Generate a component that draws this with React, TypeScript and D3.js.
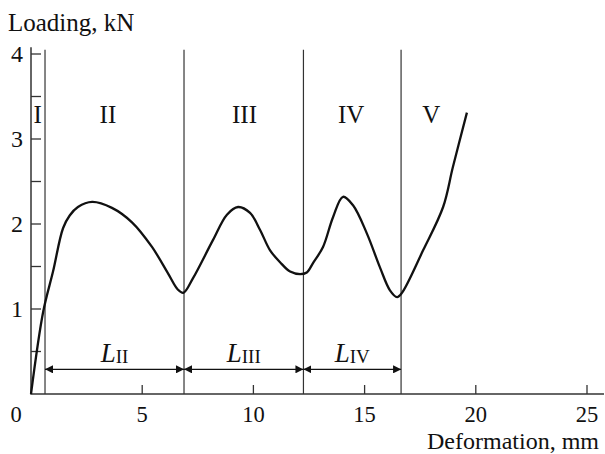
import * as d3 from 'd3'

// curve (deformation in mm, load in kN)
const deformation = [
  0, 0.55, 0.99, 1.44, 1.74, 2.11, 2.75, 3.64, 4.54, 5.44, 6.16, 6.6, 6.85,
  7.28, 8.18, 8.81, 9.31, 9.85, 10.3, 10.75, 11.2, 11.65, 12.1, 12.4,
  12.68, 13.13, 13.58, 14.03, 14.48, 15.1, 15.69, 16.14, 16.46, 16.68,
  17.63, 18.53, 18.97, 19.6,
]
const loading = [
  0, 0.97, 1.44, 1.95, 2.1, 2.2, 2.26, 2.19, 2.02, 1.73, 1.42, 1.23, 1.19,
  1.36, 1.81, 2.11, 2.2, 2.13, 1.93, 1.69, 1.55, 1.44, 1.41, 1.43,
  1.54, 1.73, 2.08, 2.32, 2.22, 1.89, 1.49, 1.22, 1.14, 1.19,
  1.69, 2.2, 2.67, 3.31,
]

// stage boundaries and labels
const boundaries = [0.63, 6.88, 12.25, 16.64]
const stageNames = ['I', 'II', 'III', 'IV', 'V']
const stageLabelX = [0.3, 3.46, 9.6, 14.4, 18.0]
const spans = [
  { from: 0.63, to: 6.88, sub: 'II' },
  { from: 6.88, to: 12.25, sub: 'III' },
  { from: 12.25, to: 16.64, sub: 'IV' },
]

const xTicks = [5, 10, 15, 20, 25]
const yMajor = [1, 2, 3, 4]
const yMinor = [0.5, 1, 1.5, 2, 2.5, 3, 3.5, 4]

const W = 605
const H = 454
const font = 'Liberation Serif, Times New Roman, serif'

export default function App() {
  const x = d3.scaleLinear().domain([0, 25]).range([31, 587])
  const y = d3.scaleLinear().domain([0, 4]).range([394, 54])

  const pts: [number, number][] = deformation.map((d, i) => [d, loading[i]])
  const line = d3
    .line<[number, number]>()
    .x(d => x(d[0]))
    .y(d => y(d[1]))
    .curve(d3.curveCatmullRom.alpha(0.5))

  const yTop = y(4.08)
  const arrowY = y(0.29)

  return (
    <svg
      width={W}
      height={H}
      style={{ position: 'absolute', left: 0, top: 0, background: '#fff' }}
      fontFamily={font}
    >
      <defs>
        <marker
          id="arr"
          viewBox="0 0 10 10"
          refX="10"
          refY="5"
          markerWidth="8"
          markerHeight="8"
          markerUnits="userSpaceOnUse"
          orient="auto-start-reverse"
        >
          <path d="M0,0 L10,5 L0,10 Z" fill="#111" />
        </marker>
      </defs>

      {/* axes */}
      <line x1={x(0)} x2={x(0)} y1={yTop} y2={y(0)} stroke="#333" strokeWidth={1.5} />
      <line x1={x(0) - 0.75} x2={604} y1={y(0)} y2={y(0)} stroke="#333" strokeWidth={1.5} />

      {yMinor.map(v => (
        <line key={'yt' + v} x1={x(0)} x2={x(0) + 10} y1={y(v)} y2={y(v)} stroke="#333" strokeWidth={1.3} />
      ))}
      {yMajor.map(v => (
        <text key={'yl' + v} x={23} y={y(v)} dy="0.35em" textAnchor="end" fontSize={24} fill="#111">
          {v}
        </text>
      ))}

      {xTicks.map(v => (
        <line key={'xt' + v} x1={x(v)} x2={x(v)} y1={y(0)} y2={y(0) - 9} stroke="#333" strokeWidth={1.3} />
      ))}
      {xTicks.map(v => (
        <text key={'xl' + v} x={x(v)} y={422} textAnchor="middle" fontSize={22.5} fill="#111">
          {v}
        </text>
      ))}
      <text x={16} y={422} textAnchor="middle" fontSize={22.5} fill="#111">0</text>

      {/* axis titles */}
      <text x={8} y={31} fontSize={25} fill="#111">Loading, kN</text>
      <text x={599} y={448.5} textAnchor="end" fontSize={24} fill="#111">Deformation, mm</text>

      {/* stage boundaries */}
      {boundaries.map(b => (
        <line key={'b' + b} x1={x(b)} x2={x(b)} y1={y(4.05)} y2={y(0)} stroke="#333" strokeWidth={1.2} />
      ))}
      {stageNames.map((s, i) => (
        <text key={s} x={x(stageLabelX[i])} y={123} textAnchor="middle" fontSize={25} fill="#111">
          {s}
        </text>
      ))}

      {/* span arrows */}
      {spans.map(s => (
        <g key={s.sub}>
          <line
            x1={x(s.from)}
            x2={x(s.to)}
            y1={arrowY}
            y2={arrowY}
            stroke="#111"
            strokeWidth={1.4}
            markerStart="url(#arr)"
            markerEnd="url(#arr)"
          />
          <text x={(x(s.from) + x(s.to)) / 2} y={362} textAnchor="middle" fill="#111">
            <tspan fontStyle="italic" fontSize={27}>L</tspan>
            <tspan fontSize={19} dy={1}>{s.sub}</tspan>
          </text>
        </g>
      ))}

      {/* load curve */}
      <path d={line(pts) ?? ''} fill="none" stroke="#111" strokeWidth={2.3} strokeLinejoin="round" />
    </svg>
  )
}
